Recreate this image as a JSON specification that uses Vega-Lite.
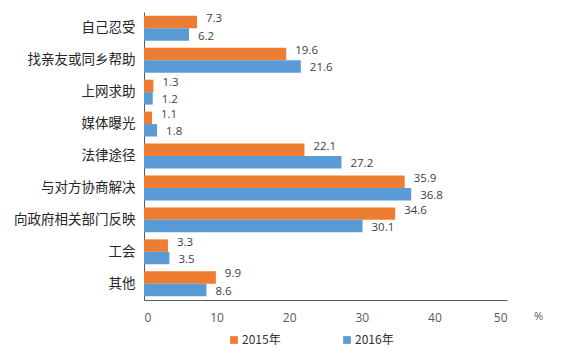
{
  "$schema": "https://vega.github.io/schema/vega-lite/v6.json",
  "autosize": "none",
  "width": 363,
  "height": 288,
  "padding": {"left": 144, "top": 12, "right": 58, "bottom": 57},
  "background": "white",
  "config": {
    "view": {"stroke": null},
    "font": "Noto Sans CJK SC"
  },
  "data": {
    "values": [
      {"cat": "自己忍受", "year": "2015年", "v": 7.3},
      {"cat": "自己忍受", "year": "2016年", "v": 6.2},
      {"cat": "找亲友或同乡帮助", "year": "2015年", "v": 19.6},
      {"cat": "找亲友或同乡帮助", "year": "2016年", "v": 21.6},
      {"cat": "上网求助", "year": "2015年", "v": 1.3},
      {"cat": "上网求助", "year": "2016年", "v": 1.2},
      {"cat": "媒体曝光", "year": "2015年", "v": 1.1},
      {"cat": "媒体曝光", "year": "2016年", "v": 1.8},
      {"cat": "法律途径", "year": "2015年", "v": 22.1},
      {"cat": "法律途径", "year": "2016年", "v": 27.2},
      {"cat": "与对方协商解决", "year": "2015年", "v": 35.9},
      {"cat": "与对方协商解决", "year": "2016年", "v": 36.8},
      {"cat": "向政府相关部门反映", "year": "2015年", "v": 34.6},
      {"cat": "向政府相关部门反映", "year": "2016年", "v": 30.1},
      {"cat": "工会", "year": "2015年", "v": 3.3},
      {"cat": "工会", "year": "2016年", "v": 3.5},
      {"cat": "其他", "year": "2015年", "v": 9.9},
      {"cat": "其他", "year": "2016年", "v": 8.6}
    ]
  },
  "encoding": {
    "y": {
      "field": "cat", "type": "nominal", "sort": null,
      "scale": {"paddingInner": 0.22, "paddingOuter": 0.12},
      "axis": {
        "title": null, "ticks": false, "labelPadding": 9, "labelFontSize": 13.5,
        "labelColor": "#262626", "domainColor": "#595959", "labelFont": "Noto Sans CJK SC"
      }
    },
    "yOffset": {"field": "year", "type": "nominal", "sort": ["2015年", "2016年"]},
    "x": {
      "field": "v", "type": "quantitative",
      "scale": {"domain": [0, 50], "nice": false},
      "axis": {
        "values": [0, 10, 20, 30, 40, 50], "grid": false, "ticks": false,
        "labelPadding": 12, "labelFontSize": 12, "labelColor": "#595959",
        "domainColor": "#595959", "labelFont": "Open Sans",
        "title": "%", "titleFontWeight": "normal", "titleFontSize": 11,
        "titleColor": "#595959", "titleAngle": 0, "titleX": 394, "titleY": 10,
        "titleAlign": "center", "titleFont": "Open Sans"
      }
    }
  },
  "layer": [
    {
      "mark": {"type": "bar"},
      "encoding": {
        "color": {
          "field": "year", "type": "nominal",
          "scale": {"domain": ["2015年", "2016年"], "range": ["#ED7D31", "#5B9BD5"]},
          "legend": {
            "title": null, "orient": "none", "direction": "horizontal",
            "legendX": 84, "legendY": 322, "symbolType": "square", "symbolSize": 60,
            "labelFontSize": 12, "labelColor": "#333333", "columnPadding": 60,
            "labelOffset": 2, "symbolStrokeWidth": 0, "labelFont": "Noto Sans CJK SC"
          }
        }
      }
    },
    {
      "transform": [{"filter": "datum.year == '2015年'"}],
      "mark": {"type": "text", "align": "left", "dx": 9, "dy": -3, "fontSize": 11.5, "color": "#404040", "font": "Open Sans"},
      "encoding": {"text": {"field": "v", "type": "quantitative", "format": ".1f"}}
    },
    {
      "transform": [{"filter": "datum.year == '2016年'"}],
      "mark": {"type": "text", "align": "left", "dx": 9, "dy": 2, "fontSize": 11.5, "color": "#404040", "font": "Open Sans"},
      "encoding": {"text": {"field": "v", "type": "quantitative", "format": ".1f"}}
    }
  ]
}
